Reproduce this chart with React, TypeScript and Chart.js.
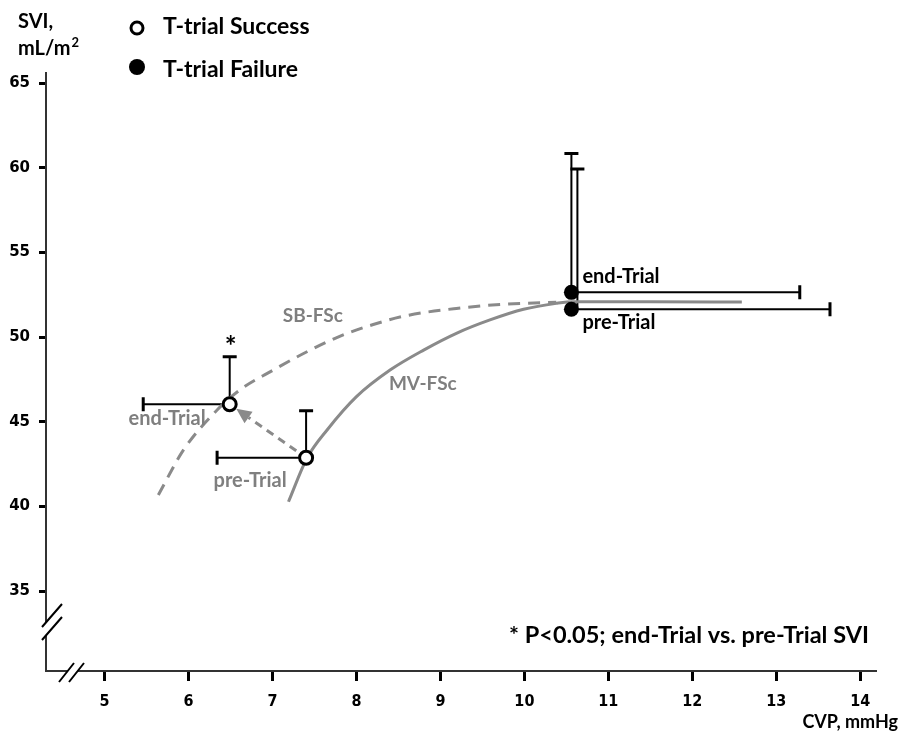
import React, { useEffect, useRef } from 'react';
import { Chart, registerables } from 'chart.js';

Chart.register(...registerables);

// ---- Data ----
const xTicks = [5, 6, 7, 8, 9, 10, 11, 12, 13, 14];
const yTicks = [35, 40, 45, 50, 55, 60, 65];

// Frank-Starling curves (CVP, SVI)
const mvCurveCVP = [7.19, 7.41, 7.65, 8.0, 8.4, 8.8, 9.19, 9.59, 9.99, 10.38, 10.58, 11.5, 12.59];
const mvCurveSVI = [40.28, 42.85, 44.52, 46.49, 48.06, 49.24, 50.23, 51.02, 51.65, 52.0, 52.1, 52.1, 52.08];
const sbCurveCVP = [5.64, 5.94, 6.34, 6.61, 7.01, 7.41, 7.8, 8.2, 8.6, 9.19, 9.79, 10.38];
const sbCurveSVI = [40.68, 43.34, 45.7, 46.88, 48.06, 49.14, 50.05, 50.75, 51.28, 51.7, 51.96, 52.06];

// Trials: index 0 = pre-Trial, 1 = end-Trial
const trialLabels = ['pre-Trial', 'end-Trial'];
const successCVP = [7.4, 6.49];
const successSVI = [42.88, 46.04];
const successSVIUpper = [45.66, 48.85];
const successCVPLower = [6.34, 5.46];
const failureCVP = [10.56, 10.56];
const failureSVI = [51.65, 52.65];
const failureSVIUpper = [59.94, 60.86];
const failureCVPUpper = [13.64, 13.28];

const curveLabels = ['SB-FSc', 'MV-FSc'];
const curveLabelCVP = [7.48, 8.79];
const curveLabelSVI = [51.25, 47.24];

const legendLabels = ['T-trial Success', 'T-trial Failure'];
const noteText = '* P<0.05; end-Trial vs. pre-Trial SVI';

const GRAY = '#8a8a8a';
const TEXT_GRAY = '#7f7f7f';
const FONT = 'Lato, "Open Sans", sans-serif';

const decorPlugin = {
  id: 'decor',
  beforeDatasetsDraw(chart: any) {
    const ctx = chart.ctx;
    const xs = chart.scales.x;
    const ys = chart.scales.y;
    ctx.save();
    ctx.strokeStyle = '#000';
    ctx.lineCap = 'butt';
    // success error bars: up & left
    for (let i = 0; i < successCVP.length; i++) {
      const px = xs.getPixelForValue(successCVP[i]);
      const py = ys.getPixelForValue(successSVI[i]);
      const pu = ys.getPixelForValue(successSVIUpper[i]);
      const pl = xs.getPixelForValue(successCVPLower[i]);
      ctx.lineWidth = 2;
      ctx.beginPath();
      ctx.moveTo(px, py); ctx.lineTo(px, pu);
      ctx.moveTo(px, py); ctx.lineTo(pl, py);
      ctx.stroke();
      ctx.lineWidth = 3;
      ctx.beginPath();
      ctx.moveTo(px - 7, pu); ctx.lineTo(px + 7, pu);
      ctx.moveTo(pl, py - 7); ctx.lineTo(pl, py + 7);
      ctx.stroke();
    }
    // failure error bars: up & right
    const vOff = [6, 0];
    for (let i = 0; i < failureCVP.length; i++) {
      const px = xs.getPixelForValue(failureCVP[i]);
      const py = ys.getPixelForValue(failureSVI[i]);
      const pu = ys.getPixelForValue(failureSVIUpper[i]);
      const pr = xs.getPixelForValue(failureCVPUpper[i]);
      const vx = px + vOff[i];
      ctx.lineWidth = 2;
      ctx.beginPath();
      ctx.moveTo(vx, py); ctx.lineTo(vx, pu);
      ctx.moveTo(px, py); ctx.lineTo(pr, py);
      ctx.stroke();
      ctx.lineWidth = 3;
      ctx.beginPath();
      ctx.moveTo(vx - 7, pu); ctx.lineTo(vx + 7, pu);
      ctx.moveTo(pr, py - 7); ctx.lineTo(pr, py + 7);
      ctx.stroke();
    }
    // dashed arrow from pre-Trial to end-Trial (success)
    const x0 = xs.getPixelForValue(successCVP[0]);
    const y0 = ys.getPixelForValue(successSVI[0]);
    const x1 = xs.getPixelForValue(successCVP[1]);
    const y1 = ys.getPixelForValue(successSVI[1]);
    const dx = x1 - x0, dy = y1 - y0;
    const len = Math.hypot(dx, dy);
    const ux = dx / len, uy = dy / len;
    const sx = x0 + ux * 12, sy = y0 + uy * 12;
    const tx = x1 - ux * 8, ty = y1 - uy * 8;
    const hx = tx - ux * 15, hy = ty - uy * 15;
    ctx.strokeStyle = GRAY;
    ctx.fillStyle = GRAY;
    ctx.lineWidth = 3;
    ctx.setLineDash([8, 6]);
    ctx.beginPath();
    ctx.moveTo(sx, sy); ctx.lineTo(hx, hy);
    ctx.stroke();
    ctx.setLineDash([]);
    ctx.beginPath();
    ctx.moveTo(tx, ty);
    ctx.lineTo(hx - uy * 7, hy + ux * 7);
    ctx.lineTo(hx + uy * 7, hy - ux * 7);
    ctx.closePath();
    ctx.fill();
    ctx.restore();
  },
  afterDraw(chart: any) {
    const ctx = chart.ctx;
    const xs = chart.scales.x;
    const ys = chart.scales.y;
    const area = chart.chartArea;
    ctx.save();
    // axis breaks
    ctx.lineWidth = 2;
    ctx.strokeStyle = '#000';
    const bx = area.left + 3, by = area.bottom - 49;
    ctx.fillStyle = '#fff';
    ctx.beginPath();
    ctx.moveTo(bx - 7, by + 5); ctx.lineTo(bx + 13, by - 18);
    ctx.lineTo(bx + 13, by - 5); ctx.lineTo(bx - 7, by + 18);
    ctx.closePath(); ctx.fill();
    ctx.beginPath();
    ctx.moveTo(bx - 7, by + 5); ctx.lineTo(bx + 13, by - 18);
    ctx.moveTo(bx - 7, by + 18); ctx.lineTo(bx + 13, by - 5);
    ctx.stroke();
    const cx = area.left + 27, cy = area.bottom + 2;
    ctx.beginPath();
    ctx.moveTo(cx - 14, cy + 9); ctx.lineTo(cx + 1, cy - 10);
    ctx.lineTo(cx + 11, cy - 10); ctx.lineTo(cx - 4, cy + 9);
    ctx.closePath(); ctx.fill();
    ctx.beginPath();
    ctx.moveTo(cx - 14, cy + 9); ctx.lineTo(cx + 1, cy - 10);
    ctx.moveTo(cx - 4, cy + 9); ctx.lineTo(cx + 11, cy - 10);
    ctx.stroke();

    // trial labels
    ctx.textBaseline = 'middle';
    ctx.font = `bold 20px ${FONT}`;
    ctx.fillStyle = TEXT_GRAY;
    {
      const px = xs.getPixelForValue(successCVP[1]);
      const py = ys.getPixelForValue(successSVI[1]);
      ctx.textAlign = 'right';
      ctx.fillText(trialLabels[1], px - 24, py + 14);
      const qx = xs.getPixelForValue(successCVP[0]);
      const qy = ys.getPixelForValue(successSVI[0]);
      ctx.textAlign = 'center';
      ctx.fillText(trialLabels[0], qx - 56, qy + 23);
      // significance star
      const pu = ys.getPixelForValue(successSVIUpper[1]);
      ctx.fillStyle = '#000';
      ctx.font = `bold 28px ${FONT}`;
      ctx.fillText('*', px + 1, pu - 10);
    }
    ctx.font = `bold 20px ${FONT}`;
    ctx.fillStyle = '#000';
    ctx.textAlign = 'left';
    for (let i = 0; i < failureCVP.length; i++) {
      const px = xs.getPixelForValue(failureCVP[i]);
      const py = ys.getPixelForValue(failureSVI[i]);
      ctx.fillText(trialLabels[i], px + 11, i === 1 ? py - 16 : py + 13);
    }
    // curve labels
    ctx.font = `bold 19px ${FONT}`;
    ctx.fillStyle = TEXT_GRAY;
    ctx.textAlign = 'center';
    for (let i = 0; i < curveLabels.length; i++) {
      ctx.fillText(curveLabels[i], xs.getPixelForValue(curveLabelCVP[i]), ys.getPixelForValue(curveLabelSVI[i]));
    }
    // note
    ctx.fillStyle = '#000';
    ctx.font = `bold 23.5px ${FONT}`;
    ctx.textAlign = 'right';
    ctx.fillText(noteText, 869, 635);
    // axis titles
    ctx.font = `bold 18px ${FONT}`;
    ctx.textAlign = 'right';
    ctx.fillText('CVP, mmHg', 898, 722);
    ctx.font = `bold 20px ${FONT}`;
    ctx.textAlign = 'left';
    ctx.fillText('SVI,', 18, 22);
    ctx.fillText('mL/m', 18, 49);
    const w = ctx.measureText('mL/m').width;
    ctx.font = `bold 13px ${FONT}`;
    ctx.fillText('2', 18 + w + 1, 43);
    // legend
    ctx.lineWidth = 3;
    ctx.strokeStyle = '#000';
    ctx.fillStyle = '#fff';
    ctx.beginPath(); ctx.arc(137, 28, 6, 0, Math.PI * 2); ctx.fill(); ctx.stroke();
    ctx.fillStyle = '#000';
    ctx.beginPath(); ctx.arc(137, 67, 8, 0, Math.PI * 2); ctx.fill();
    ctx.font = `bold 23px ${FONT}`;
    ctx.fillText(legendLabels[0], 163, 27);
    ctx.fillText(legendLabels[1], 163, 70);
    ctx.restore();
  },
};

export default function App() {
  const ref = useRef<HTMLCanvasElement | null>(null);
  useEffect(() => {
    if (!ref.current) return;
    const chart = new Chart(ref.current, {
      type: 'scatter',
      data: {
        datasets: [
          {
            label: 'T-trial Success',
            data: successCVP.map((x, i) => ({ x, y: successSVI[i] })),
            pointRadius: 6.5,
            pointBorderWidth: 3,
            pointBackgroundColor: '#fff',
            pointBorderColor: '#000',
            showLine: false,
            order: 0,
          },
          {
            label: 'T-trial Failure',
            data: failureCVP.map((x, i) => ({ x, y: failureSVI[i] })),
            pointRadius: 7.5,
            pointBorderWidth: 0,
            pointBackgroundColor: '#000',
            pointBorderColor: '#000',
            showLine: false,
            order: 0,
          },
          {
            label: 'MV-FSc',
            data: mvCurveCVP.map((x, i) => ({ x, y: mvCurveSVI[i] })),
            showLine: true,
            borderColor: GRAY,
            borderWidth: 3,
            pointRadius: 0,
            cubicInterpolationMode: 'monotone',
            order: 2,
          },
          {
            label: 'SB-FSc',
            data: sbCurveCVP.map((x, i) => ({ x, y: sbCurveSVI[i] })),
            showLine: true,
            borderColor: GRAY,
            borderWidth: 3,
            borderDash: [12, 8],
            pointRadius: 0,
            cubicInterpolationMode: 'monotone',
            order: 3,
          },
        ],
      },
      options: {
        animation: false,
        responsive: false,
        maintainAspectRatio: false,
        layout: { padding: { top: 73, right: 22, left: 0, bottom: 0 } },
        plugins: { legend: { display: false }, tooltip: { enabled: false } },
        scales: {
          x: {
            type: 'linear',
            min: 4.302,
            max: 14.188,
            afterBuildTicks: (s: any) => { s.ticks = xTicks.map((v) => ({ value: v })); },
            afterFit: (s: any) => { s.height = 60; },
            grid: { drawOnChartArea: false, drawTicks: true, tickLength: 10, tickWidth: 3, tickColor: '#000' },
            border: { display: true, color: '#333', width: 2 },
            ticks: {
              autoSkip: false,
              maxRotation: 0,
              padding: 11,
              color: '#000',
              font: { family: '"DejaVu Sans Condensed", "DejaVu Sans", sans-serif', size: 16, weight: 'bold' },
            },
          },
          y: {
            type: 'linear',
            min: 30.28,
            max: 65.61,
            afterBuildTicks: (s: any) => { s.ticks = yTicks.map((v) => ({ value: v })); },
            afterFit: (s: any) => { s.width = 46; },
            grid: { drawOnChartArea: false, drawTicks: true, tickLength: 7, tickWidth: 3, tickColor: '#000' },
            border: { display: true, color: '#333', width: 2 },
            ticks: {
              padding: 9,
              color: '#000',
              font: { family: '"DejaVu Sans", sans-serif', size: 15, weight: 'bold' },
            },
          },
        },
      },
      plugins: [decorPlugin],
    } as any);
    return () => chart.destroy();
  }, []);
  return (
    <div style={{ position: 'fixed', left: 0, top: 0, width: 898, height: 731, background: '#fff' }}>
      <canvas ref={ref} width={898} height={731} style={{ display: 'block', width: 898, height: 731 }} />
    </div>
  );
}
